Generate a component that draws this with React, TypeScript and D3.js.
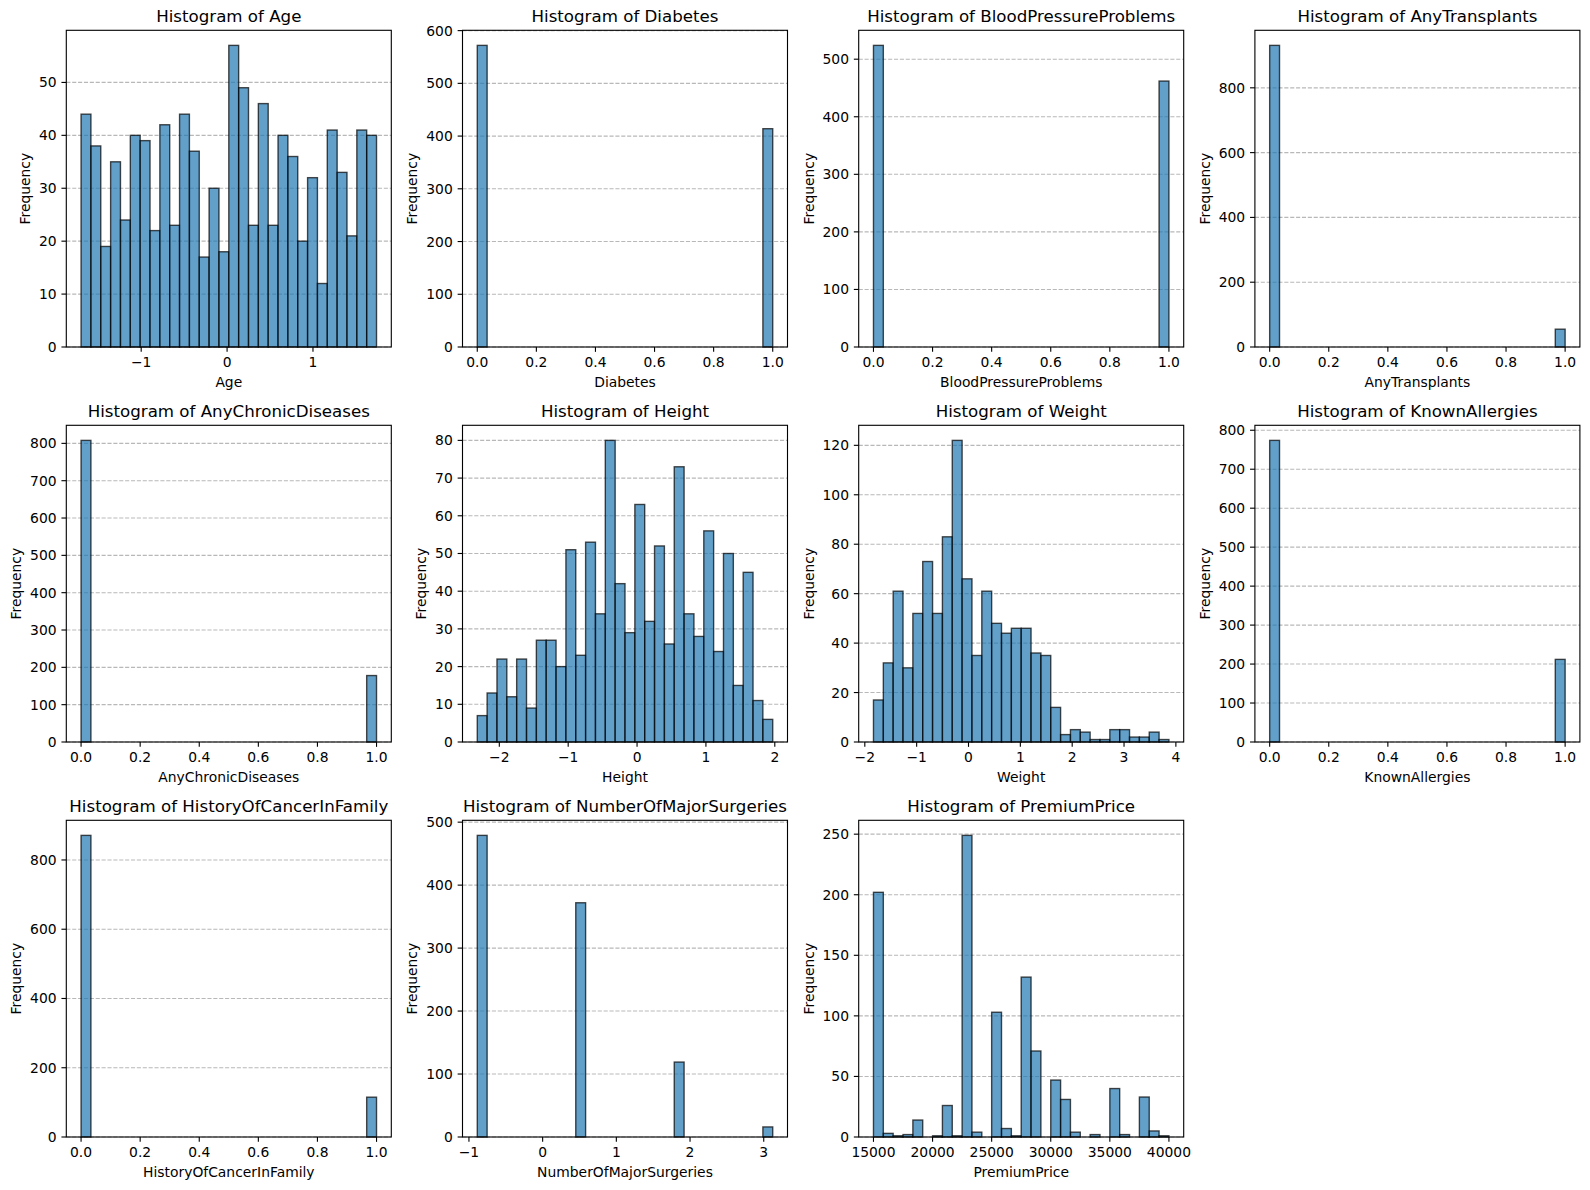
import React from "react";
import * as d3 from "d3";

// ---------- data (histogram counts, 30 bins each) ----------
const ageCounts = [44, 38, 19, 35, 24, 40, 39, 22, 42, 23, 44, 37, 17, 30, 18, 57, 49, 23, 46, 23, 40, 36, 20, 32, 12, 41, 33, 21, 41, 40];
const ageRange = [-1.7, 1.74];

const heightCounts = [7, 13, 22, 12, 22, 9, 27, 27, 20, 51, 23, 53, 34, 80, 42, 29, 63, 32, 52, 26, 73, 34, 28, 56, 24, 50, 15, 45, 11, 6];
const heightRange = [-2.32, 1.97];

const weightCounts = [17, 32, 61, 30, 52, 73, 52, 83, 122, 66, 35, 61, 48, 44, 46, 46, 36, 35, 14, 3, 5, 4, 1, 1, 5, 5, 2, 2, 4, 1];
const weightRange = [-1.833, 3.866];

const premiumCounts = [202, 3, 1, 2, 14, 0, 1, 26, 1, 249, 4, 0, 103, 7, 1, 132, 71, 0, 47, 31, 4, 0, 2, 0, 40, 2, 0, 33, 5, 1];
const premiumRange = [15000, 40000];

const surgeryCounts = [479, 0, 0, 0, 0, 0, 0, 0, 0, 0, 372, 0, 0, 0, 0, 0, 0, 0, 0, 0, 119, 0, 0, 0, 0, 0, 0, 0, 0, 16];
const surgeryRange = [-0.887, 3.122];

// binary features: [count at 0, count at 1]
const diabetesCounts = [572, 414];
const bloodPressureCounts = [524, 462];
const transplantCounts = [931, 55];
const chronicCounts = [808, 178];
const allergyCounts = [774, 212];
const cancerCounts = [871, 115];
const binaryRange = [0, 1];

const binaryTicks = [0, 0.2, 0.4, 0.6, 0.8, 1.0];
const ageTicks = [-1, 0, 1];
const heightTicks = [-2, -1, 0, 1, 2];
const weightTicks = [-2, -1, 0, 1, 2, 3, 4];
const surgeryTicks = [-1, 0, 1, 2, 3];
const premiumTicks = [15000, 20000, 25000, 30000, 35000, 40000];

const NBINS = 30;
const expandBinary = (c: number[]) => {
  const arr = new Array(NBINS).fill(0);
  arr[0] = c[0];
  arr[NBINS - 1] = c[1];
  return arr;
};

const fmtInt = (v: number) => (v < 0 ? "\u2212" + Math.abs(v) : String(v));
const fmt1 = (v: number) => v.toFixed(1);

type Panel = {
  name: string;
  counts: number[];
  range: number[];
  xTicks: number[];
  xFmt: (v: number) => string;
  yStep: number;
};

const panels: Panel[] = [
  { name: "Age", counts: ageCounts, range: ageRange, xTicks: ageTicks, xFmt: fmtInt, yStep: 10 },
  { name: "Diabetes", counts: expandBinary(diabetesCounts), range: binaryRange, xTicks: binaryTicks, xFmt: fmt1, yStep: 100 },
  { name: "BloodPressureProblems", counts: expandBinary(bloodPressureCounts), range: binaryRange, xTicks: binaryTicks, xFmt: fmt1, yStep: 100 },
  { name: "AnyTransplants", counts: expandBinary(transplantCounts), range: binaryRange, xTicks: binaryTicks, xFmt: fmt1, yStep: 200 },
  { name: "AnyChronicDiseases", counts: expandBinary(chronicCounts), range: binaryRange, xTicks: binaryTicks, xFmt: fmt1, yStep: 100 },
  { name: "Height", counts: heightCounts, range: heightRange, xTicks: heightTicks, xFmt: fmtInt, yStep: 10 },
  { name: "Weight", counts: weightCounts, range: weightRange, xTicks: weightTicks, xFmt: fmtInt, yStep: 20 },
  { name: "KnownAllergies", counts: expandBinary(allergyCounts), range: binaryRange, xTicks: binaryTicks, xFmt: fmt1, yStep: 100 },
  { name: "HistoryOfCancerInFamily", counts: expandBinary(cancerCounts), range: binaryRange, xTicks: binaryTicks, xFmt: fmt1, yStep: 200 },
  { name: "NumberOfMajorSurgeries", counts: surgeryCounts, range: surgeryRange, xTicks: surgeryTicks, xFmt: fmtInt, yStep: 100 },
  { name: "PremiumPrice", counts: premiumCounts, range: premiumRange, xTicks: premiumTicks, xFmt: (v) => String(v), yStep: 50 },
];

// ---------- layout ----------
const W = 1590;
const H = 1190;
const LEFT0 = 66.3;
const COL_STEP = 396.2;
const AX_W = 325;
const TOP0 = 30.3;
const ROW_STEP = 395;
const AX_H = 316.7;
const FONT = "DejaVu Sans, sans-serif";
const FS = 13.89;
const TITLE_FS = 16.67;
const TICK_LEN = 4.86;
const LW = 1.11;
const DIGIT_W = 0.636 * FS;

function HistPanel({ p, idx }: { p: Panel; idx: number }) {
  const col = idx % 4;
  const row = Math.floor(idx / 4);
  const left = LEFT0 + col * COL_STEP;
  const top = TOP0 + row * ROW_STEP;
  const right = left + AX_W;
  const bottom = top + AX_H;

  const [lo, hi] = p.range;
  const span = hi - lo;
  const x = d3.scaleLinear().domain([lo - 0.05 * span, hi + 0.05 * span]).range([left, right]);
  const maxC = d3.max(p.counts) as number;
  const y = d3.scaleLinear().domain([0, maxC * 1.05]).range([bottom, top]);
  const yTicks = d3.range(0, maxC * 1.05 + 1e-9, p.yStep);
  const binW = span / p.counts.length;

  const maxLabelW = d3.max(yTicks, (t) => String(t).length * DIGIT_W) as number;
  const yLabelX = left - 9.72 - maxLabelW - 5.56 - 3.3;

  return (
    <g>
      {/* grid */}
      {yTicks.map((t) => (
        <line
          key={"g" + t}
          x1={left}
          x2={right}
          y1={y(t)}
          y2={y(t)}
          stroke="#b0b0b0"
          strokeOpacity={0.9}
          strokeWidth={LW}
          strokeDasharray="4.1,1.78"
        />
      ))}
      {/* bars */}
      {p.counts.map((c, i) =>
        c > 0 ? (
          <rect
            key={"b" + i}
            x={x(lo + i * binW)}
            y={y(c)}
            width={x(lo + (i + 1) * binW) - x(lo + i * binW)}
            height={y(0) - y(c)}
            fill="#1f77b4"
            fillOpacity={0.7}
            stroke="#000"
            strokeOpacity={0.7}
            strokeWidth={1.39}
          />
        ) : null
      )}
      {/* frame */}
      <rect x={left} y={top} width={AX_W} height={AX_H} fill="none" stroke="#000" strokeWidth={LW} />
      {/* x ticks */}
      {p.xTicks.map((t) => (
        <g key={"x" + t}>
          <line x1={x(t)} x2={x(t)} y1={bottom} y2={bottom + TICK_LEN} stroke="#000" strokeWidth={LW} />
          <text x={x(t)} y={bottom + 20} textAnchor="middle" fontSize={FS} fontFamily={FONT} fill="#000">
            {p.xFmt(t)}
          </text>
        </g>
      ))}
      {/* y ticks */}
      {yTicks.map((t) => (
        <g key={"y" + t}>
          <line x1={left - TICK_LEN} x2={left} y1={y(t)} y2={y(t)} stroke="#000" strokeWidth={LW} />
          <text x={left - 9.72} y={y(t)} dy="0.36em" textAnchor="end" fontSize={FS} fontFamily={FONT} fill="#000">
            {String(t)}
          </text>
        </g>
      ))}
      {/* labels */}
      <text x={(left + right) / 2} y={bottom + 39.8} textAnchor="middle" fontSize={FS} fontFamily={FONT} fill="#000">
        {p.name}
      </text>
      <text
        transform={`translate(${yLabelX},${(top + bottom) / 2}) rotate(-90)`}
        textAnchor="middle"
        fontSize={FS}
        fontFamily={FONT}
        fill="#000"
      >
        Frequency
      </text>
      <text x={(left + right) / 2} y={top - 8.33} textAnchor="middle" fontSize={TITLE_FS} fontFamily={FONT} fill="#000">
        {"Histogram of " + p.name}
      </text>
    </g>
  );
}

export default function App() {
  return (
    <svg
      width={W}
      height={H}
      viewBox={`0 0 ${W} ${H}`}
      style={{ position: "absolute", left: 0, top: 0, background: "#fff", display: "block" }}
    >
      <rect x={0} y={0} width={W} height={H} fill="#fff" />
      {panels.map((p, i) => (
        <HistPanel key={p.name} p={p} idx={i} />
      ))}
    </svg>
  );
}
